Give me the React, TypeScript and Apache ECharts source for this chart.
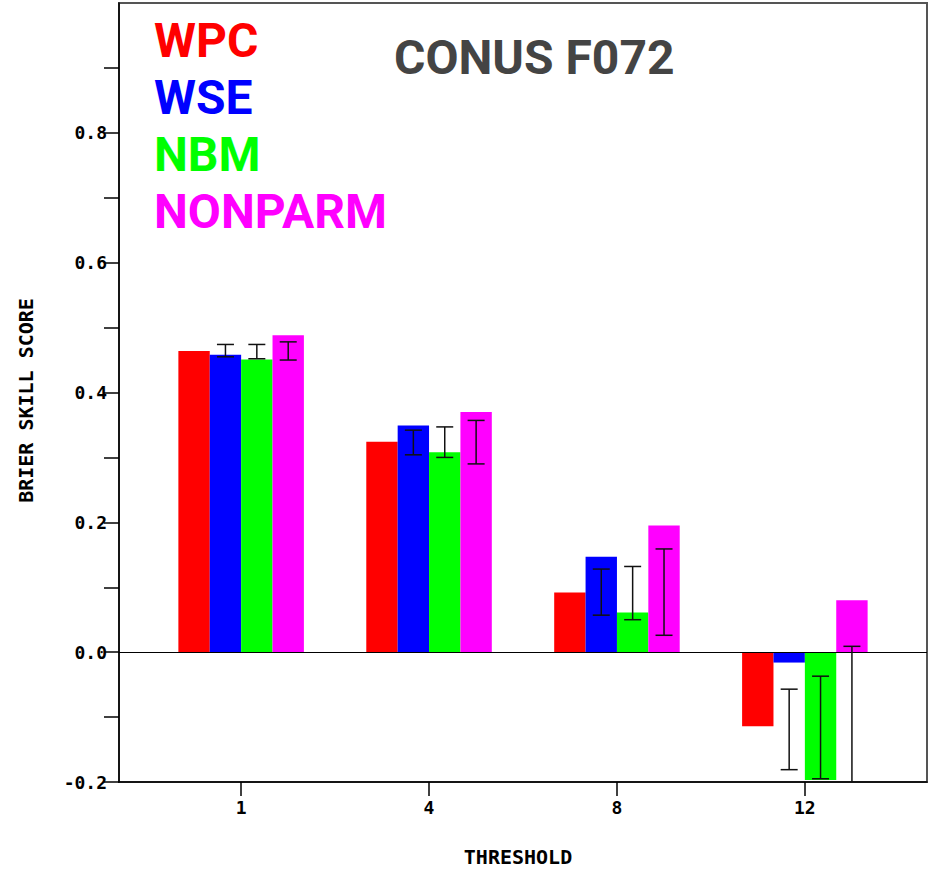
import React, { useEffect, useRef } from "react";
import * as echarts from "echarts";

const thresholds = ["1", "4", "8", "12"];
const seriesNames = ["WPC", "WSE", "NBM", "NONPARM"];
const seriesColors = ["#ff0000", "#0000ff", "#00ff00", "#ff00ff"];

const wpc = [0.464, 0.324, 0.092, -0.114];
const wse = [0.458, 0.349, 0.147, -0.016];
const nbm = [0.451, 0.308, 0.061, -0.197];
const nonparm = [0.488, 0.37, 0.195, 0.08];

const wseLow = [0.455, 0.304, 0.057, -0.181];
const wseHigh = [0.474, 0.342, 0.128, -0.057];
const nbmLow = [0.452, 0.3, 0.05, -0.195];
const nbmHigh = [0.474, 0.347, 0.132, -0.037];
const nonparmLow = [0.45, 0.29, 0.026, -0.25];
const nonparmHigh = [0.478, 0.357, 0.159, 0.009];

const yTickValues = [-0.2, -0.1, 0, 0.1, 0.2, 0.3, 0.4, 0.5, 0.6, 0.7, 0.8, 0.9];
const yLabelValues = [-0.2, 0, 0.2, 0.4, 0.6, 0.8];

const BAR_W = 0.167;
const MONO = "'DejaVu Sans Mono', monospace";

function barSeries(name: string, values: number[], color: string, k: number) {
  return {
    type: "custom",
    name,
    itemStyle: { color },
    data: values.map((v, i) => [i, v]),
    encode: { x: 0, y: 1 },
    silent: true,
    z: 2,
    renderItem: (params: any, api: any) => {
      const i = api.value(0);
      const v = api.value(1);
      const w = api.size([BAR_W, 0])[0];
      const base = api.coord([i, 0]);
      const top = api.coord([i, v]);
      const x = base[0] + (k - 1.5) * w - w / 2;
      return {
        type: "rect",
        shape: {
          x,
          y: Math.min(base[1], top[1]),
          width: w,
          height: Math.abs(base[1] - top[1]),
        },
        style: { fill: color },
      };
    },
  };
}

function errSeries(name: string, lows: number[], highs: number[], k: number) {
  return {
    type: "custom",
    name,
    data: lows.map((lo, i) => [i, lo, highs[i]]),
    encode: { x: 0, y: [1, 2] },
    silent: true,
    z: 5,
    renderItem: (params: any, api: any) => {
      const i = api.value(0);
      const lo = api.value(1);
      const hi = api.value(2);
      const w = api.size([BAR_W, 0])[0];
      const cx = api.coord([i, 0])[0] + (k - 1.5) * w;
      const yLo = api.coord([i, lo])[1];
      const yHi = api.coord([i, hi])[1];
      const cs = params.coordSys;
      const yMin = cs.y;
      const yMax = cs.y + cs.height;
      const y1 = Math.max(yHi, yMin);
      const y2 = Math.min(yLo, yMax);
      const st = { stroke: "#111", lineWidth: 1.5 };
      const half = 8.5;
      const children: any[] = [
        { type: "line", shape: { x1: cx, y1, x2: cx, y2 }, style: st },
      ];
      if (yHi >= yMin)
        children.push({
          type: "line",
          shape: { x1: cx - half, y1: yHi, x2: cx + half, y2: yHi },
          style: st,
        });
      if (yLo <= yMax)
        children.push({
          type: "line",
          shape: { x1: cx - half, y1: yLo, x2: cx + half, y2: yLo },
          style: st,
        });
      return { type: "group", children };
    },
  };
}

export default function App() {
  const ref = useRef<HTMLDivElement>(null);

  useEffect(() => {
    if (!ref.current) return;
    const chart = echarts.init(ref.current, null, { renderer: "svg" });
    const allVals = [wpc, wse, nbm, nonparm];
    const option: any = {
      animation: false,
      backgroundColor: "#ffffff",
      title: {
        text: "CONUS F072",
        left: 394,
        top: 33,
        padding: 0,
        textStyle: {
          fontFamily: "Roboto",
          fontWeight: "bold",
          fontSize: 48,
          color: "#444444",
        },
      },
      legend: {
        orient: "vertical",
        left: 149,
        top: 12,
        padding: 0,
        itemGap: 0,
        itemWidth: 0,
        itemHeight: 1,
        icon: "none",
        selectedMode: false,
        data: seriesNames.map((n, k) => ({
          name: n,
          icon: "none",
          textStyle: { color: seriesColors[k] },
        })),
        textStyle: {
          fontFamily: "Roboto",
          fontWeight: "bold",
          fontSize: 48,
          lineHeight: 57,
        },
      },
      grid: {
        left: 119,
        right: 5,
        top: 3,
        bottom: 86,
        show: true,
        borderColor: "#555555",
        borderWidth: 2,
        backgroundColor: "transparent",
      },
      xAxis: {
        type: "value",
        min: -0.65,
        max: 3.65,
        name: "THRESHOLD",
        nameLocation: "middle",
        nameGap: 65,
        nameTextStyle: {
          fontFamily: MONO,
          fontWeight: "bold",
          fontSize: 20,
          color: "#000",
          padding: [0, 10, 0, 0],
        },
        splitLine: { show: false },
        axisLine: { onZero: false, lineStyle: { color: "#000", width: 1.5 } },
        axisTick: {
          customValues: [0, 1, 2, 3],
          length: 14,
          lineStyle: { color: "#000", width: 1.5 },
        },
        axisLabel: {
          customValues: [0, 1, 2, 3],
          margin: 16,
          formatter: (v: number) => thresholds[Math.round(v)] ?? "",
          fontFamily: MONO,
          fontWeight: "bold",
          fontSize: 18,
          color: "#000",
        },
      },
      yAxis: {
        type: "value",
        min: -0.2,
        max: 1.0,
        interval: 0.1,
        name: "BRIER SKILL SCORE",
        nameLocation: "middle",
        nameRotate: 90,
        nameGap: 83,
        nameTextStyle: {
          fontFamily: MONO,
          fontWeight: "bold",
          fontSize: 20,
          color: "#000",
          padding: [0, 16, 0, 0],
        },
        splitLine: { show: false },
        axisLine: {
          show: true,
          onZero: false,
          lineStyle: { color: "#000", width: 1.5 },
        },
        axisTick: {
          show: true,
          customValues: yTickValues,
          length: 15,
          lineStyle: { color: "#000", width: 1.5 },
        },
        axisLabel: {
          customValues: yLabelValues,
          margin: 12,
          formatter: (v: number) => v.toFixed(1),
          fontFamily: MONO,
          fontWeight: "bold",
          fontSize: 18,
          color: "#000",
        },
      },
      series: [
        ...allVals.map((vals, k) =>
          barSeries(seriesNames[k], vals, seriesColors[k], k)
        ),
        {
          ...errSeries("WSE range", wseLow, wseHigh, 1),
          markLine: {
            silent: true,
            symbol: "none",
            label: { show: false },
            lineStyle: { color: "#000", width: 1.2, type: "solid" },
            data: [{ yAxis: 0 }],
          },
        },
        errSeries("NBM range", nbmLow, nbmHigh, 2),
        errSeries("NONPARM range", nonparmLow, nonparmHigh, 3),
      ],
    };
    chart.setOption(option);
    return () => chart.dispose();
  }, []);

  return (
    <div
      ref={ref}
      style={{
        position: "absolute",
        left: 0,
        top: 0,
        width: 932,
        height: 872,
        background: "#fff",
      }}
    />
  );
}
